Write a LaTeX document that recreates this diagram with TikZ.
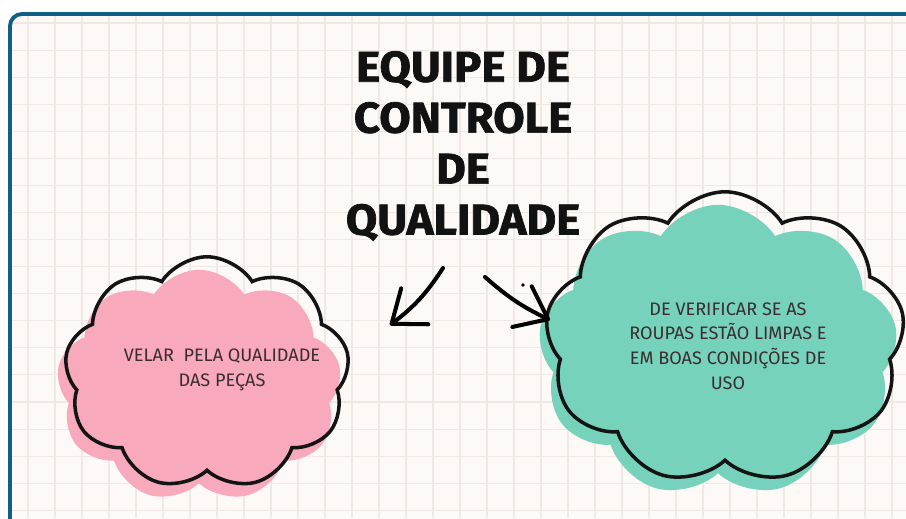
\documentclass[tikz,border=0pt]{standalone}
\usepackage{fontspec}
\setmainfont{Fira Sans}
\newfontfamily\titlefont[FakeStretch=1.06, FakeBold=1.6]{Fira Sans}
\usepackage{tikz}
\usetikzlibrary{arrows.meta,positioning,shapes.symbols}
\definecolor{frameblue}{HTML}{0E6184}
\definecolor{paper}{HTML}{FDF9F6}
\definecolor{gridtone}{HTML}{EFE8E4}
\definecolor{puffpink}{HTML}{F9A9BC}
\definecolor{puffteal}{HTML}{77D2BC}
\definecolor{pufftext}{HTML}{3A2C30}
\tikzset{
  board-frame/.style={draw=frameblue, line width=2.2pt, rounded corners=0.24cm},
  board-grid/.style={draw=gridtone, line width=0.6pt},
  puff-fill/.style={cloud, cloud puffs=9, cloud puff arc=115, aspect=1.3, inner sep=0pt, draw=none},
  puff-line/.style={cloud, cloud puffs=9, cloud puff arc=115, aspect=1.3, inner sep=0pt,
    draw=black!92, line width=2pt},
  puff-text/.style={font=\fontsize{10.3}{14}\selectfont, text=pufftext, align=center},
  hand-arrow/.style={line width=2.3pt, line cap=round,
    -{Straight Barb[length=5.8mm, width=9mm, round]}}
}

\begin{document}
\begin{tikzpicture}[x=0.02cm, y=-0.02cm]
  \clip (0,0) rectangle (906,518);
  \fill[white] (0,0) rectangle (906,518);

  % Board with grid
  \fill[paper, rounded corners=0.24cm] (10,14) rectangle (940,550);
  \begin{scope}
    \clip[rounded corners=0.24cm] (10,14) rectangle (940,550);
    \foreach \gx in {0,...,33}
      \draw[board-grid] (28+27*\gx,14) -- (28+27*\gx,518);
    \foreach \gy in {0,...,18}
      \draw[board-grid] (10,23+27.07*\gy) -- (906,23+27.07*\gy);
  \end{scope}
  \draw[board-frame] (10,14) rectangle (940,550);

  % Title
  \node[font=\titlefont\bfseries\fontsize{24.5}{29}\selectfont, text=black!93, align=center]
    (title) at (463,146) {EQUIPE DE\\CONTROLE\\DE\\QUALIDADE};

  % Pink cloud (left)
  \node[puff-fill, fill=puffpink, minimum width=5.7cm, minimum height=4.65cm] (pinkfill) at (199,386) {};
  \node[puff-line, minimum width=5.7cm, minimum height=4.65cm] (pink) at (207,373) {};
  \node[puff-text] (pinktext) at (222,370) {VELAR~ PELA QUALIDADE\\DAS PEÇAS};

  % Teal cloud (right)
  \node[puff-fill, fill=puffteal, minimum width=7.2cm, minimum height=5.85cm] (tealfill) at (718,351) {};
  \node[puff-line, minimum width=7.2cm, minimum height=5.85cm] (teal) at (725,338) {};
  \node[puff-text] (tealtext) at (728,346) {DE VERIFICAR SE AS\\ROUPAS ESTÃO LIMPAS E\\EM BOAS CONDIÇÕES DE\\USO};

  % Hand drawn arrows
  \coordinate (left-tail) at (443,268);
  \coordinate (left-tip) at (390,325);
  \coordinate (right-tail) at (485,277);
  \coordinate (right-tip) at (550,320);
  \draw[hand-arrow] (left-tail) to[bend left=10] (left-tip);
  \draw[hand-arrow] (right-tail) to[bend right=8] (right-tip);
  \fill (523,285) circle (1.1pt);
\end{tikzpicture}
\end{document}
